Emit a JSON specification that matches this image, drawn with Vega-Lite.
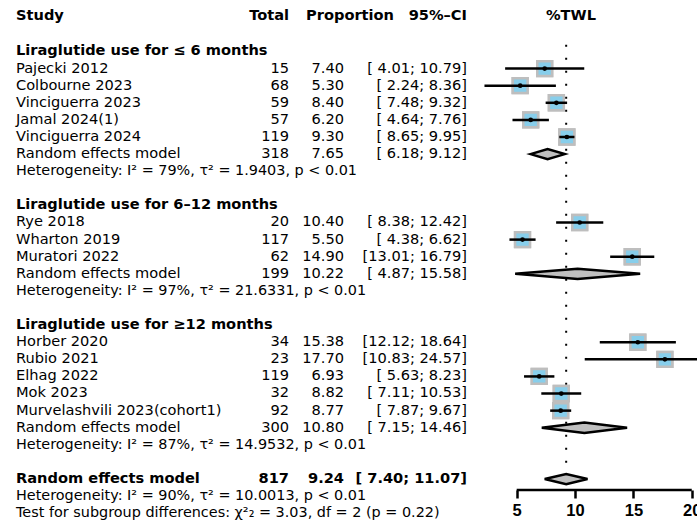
{
  "$schema": "https://vega.github.io/schema/vega-lite/v6.json",
  "padding": {"left": 16, "top": 0, "right": 0, "bottom": 0},
  "spacing": 0,
  "bounds": "flush",
  "config": {"view": {"stroke": null}},
  "datasets": {
    "rows": [
      {"row": -2.1, "kind": "colhead", "label": "Study"},
      {"row": 0, "kind": "group", "label": "Liraglutide use for ≤ 6 months"},
      {"row": 1, "kind": "study", "label": "Pajecki 2012", "total": 15, "est": 7.40, "lower": 4.01, "upper": 10.79},
      {"row": 2, "kind": "study", "label": "Colbourne 2023", "total": 68, "est": 5.30, "lower": 2.24, "upper": 8.36},
      {"row": 3, "kind": "study", "label": "Vinciguerra 2023", "total": 59, "est": 8.40, "lower": 7.48, "upper": 9.32},
      {"row": 4, "kind": "study", "label": "Jamal 2024(1)", "total": 57, "est": 6.20, "lower": 4.64, "upper": 7.76},
      {"row": 5, "kind": "study", "label": "Vinciguerra 2024", "total": 119, "est": 9.30, "lower": 8.65, "upper": 9.95},
      {"row": 6, "kind": "summary", "label": "Random effects model", "total": 318, "est": 7.65, "lower": 6.18, "upper": 9.12},
      {"row": 7, "kind": "het", "label": "Heterogeneity: I² = 79%, τ² = 1.9403, p < 0.01"},
      {"row": 9, "kind": "group", "label": "Liraglutide use for 6–12 months"},
      {"row": 10, "kind": "study", "label": "Rye 2018", "total": 20, "est": 10.40, "lower": 8.38, "upper": 12.42},
      {"row": 11, "kind": "study", "label": "Wharton 2019", "total": 117, "est": 5.50, "lower": 4.38, "upper": 6.62},
      {"row": 12, "kind": "study", "label": "Muratori 2022", "total": 62, "est": 14.90, "lower": 13.01, "upper": 16.79},
      {"row": 13, "kind": "summary", "label": "Random effects model", "total": 199, "est": 10.22, "lower": 4.87, "upper": 15.58},
      {"row": 14, "kind": "het", "label": "Heterogeneity: I² = 97%, τ² = 21.6331, p < 0.01"},
      {"row": 16, "kind": "group", "label": "Liraglutide use for ≥12 months"},
      {"row": 17, "kind": "study", "label": "Horber 2020", "total": 34, "est": 15.38, "lower": 12.12, "upper": 18.64},
      {"row": 18, "kind": "study", "label": "Rubio 2021", "total": 23, "est": 17.70, "lower": 10.83, "upper": 24.57},
      {"row": 19, "kind": "study", "label": "Elhag 2022", "total": 119, "est": 6.93, "lower": 5.63, "upper": 8.23},
      {"row": 20, "kind": "study", "label": "Mok 2023", "total": 32, "est": 8.82, "lower": 7.11, "upper": 10.53},
      {"row": 21, "kind": "study", "label": "Murvelashvili 2023(cohort1)", "total": 92, "est": 8.77, "lower": 7.87, "upper": 9.67},
      {"row": 22, "kind": "summary", "label": "Random effects model", "total": 300, "est": 10.80, "lower": 7.15, "upper": 14.46},
      {"row": 23, "kind": "het", "label": "Heterogeneity: I² = 87%, τ² = 14.9532, p < 0.01"},
      {"row": 25, "kind": "overall", "label": "Random effects model", "total": 817, "est": 9.24, "lower": 7.40, "upper": 11.07},
      {"row": 26, "kind": "het", "label": "Heterogeneity: I² = 90%, τ² = 10.0013, p < 0.01"},
      {"row": 27, "kind": "test", "label": "Test for subgroup differences: χ²₂ = 3.03, df = 2 (p = 0.22)"}
    ]
  },
  "data": {"name": "rows"},
  "hconcat": [
    {
      "width": 214,
      "height": 521,
      "encoding": {
        "y": {"field": "row", "type": "quantitative", "axis": null,
              "scale": {"domain": [-3.01, 27.46], "reverse": true, "nice": false, "zero": false}},
        "x": {"value": 0},
        "text": {"field": "label"}
      },
      "layer": [
        {
          "transform": [{"filter": "indexof(['colhead','group','overall'], datum.kind) >= 0"}],
          "mark": {"type": "text", "align": "left", "baseline": "middle", "font": "DejaVu Sans", "fontSize": 14.6, "fontWeight": "bold", "color": "black"}
        },
        {
          "transform": [{"filter": "datum.kind == 'study' || datum.kind == 'summary'"}],
          "mark": {"type": "text", "align": "left", "baseline": "middle", "font": "DejaVu Sans", "fontSize": 14.6, "color": "black"}
        },
        {
          "transform": [{"filter": "datum.kind == 'het' || datum.kind == 'test'"}],
          "mark": {"type": "text", "align": "left", "baseline": "middle", "font": "DejaVu Sans", "fontSize": 14.4, "color": "black"}
        }
      ]
    },
    {
      "width": 59,
      "height": 521,
      "encoding": {
        "y": {"field": "row", "type": "quantitative", "axis": null,
              "scale": {"domain": [-3.01, 27.46], "reverse": true, "nice": false, "zero": false}},
        "x": {"value": "width"}
      },
      "layer": [
        {
          "transform": [{"filter": "datum.kind == 'colhead'"}],
          "mark": {"type": "text", "align": "right", "baseline": "middle", "font": "DejaVu Sans", "fontSize": 14.6, "fontWeight": "bold", "color": "black"},
          "encoding": {"text": {"value": "Total"}}
        },
        {
          "transform": [{"filter": "datum.kind == 'study' || datum.kind == 'summary'"}],
          "mark": {"type": "text", "align": "right", "baseline": "middle", "font": "DejaVu Sans", "fontSize": 14.6, "color": "black"},
          "encoding": {"text": {"field": "total", "type": "quantitative"}}
        },
        {
          "transform": [{"filter": "datum.kind == 'overall'"}],
          "mark": {"type": "text", "align": "right", "baseline": "middle", "font": "DejaVu Sans", "fontSize": 14.6, "fontWeight": "bold", "color": "black"},
          "encoding": {"text": {"field": "total", "type": "quantitative"}}
        }
      ]
    },
    {
      "width": 55,
      "height": 521,
      "encoding": {
        "y": {"field": "row", "type": "quantitative", "axis": null,
              "scale": {"domain": [-3.01, 27.46], "reverse": true, "nice": false, "zero": false}},
        "x": {"value": "width"}
      },
      "layer": [
        {
          "transform": [{"filter": "datum.kind == 'colhead'"}],
          "mark": {"type": "text", "align": "right", "baseline": "middle", "dx": 50, "font": "DejaVu Sans", "fontSize": 14.6, "fontWeight": "bold", "color": "black"},
          "encoding": {"text": {"value": "Proportion"}}
        },
        {
          "transform": [{"filter": "datum.kind == 'study' || datum.kind == 'summary'"}],
          "mark": {"type": "text", "align": "right", "baseline": "middle", "font": "DejaVu Sans", "fontSize": 14.6, "color": "black"},
          "encoding": {"text": {"field": "est", "type": "quantitative", "format": ".2f"}}
        },
        {
          "transform": [{"filter": "datum.kind == 'overall'"}],
          "mark": {"type": "text", "align": "right", "baseline": "middle", "font": "DejaVu Sans", "fontSize": 14.6, "fontWeight": "bold", "color": "black"},
          "encoding": {"text": {"field": "est", "type": "quantitative", "format": ".2f"}}
        }
      ]
    },
    {
      "width": 126,
      "height": 521,
      "transform": [
        {"calculate": "'[' + pad(format(datum.lower, '.2f'), 5, ' ', 'left') + '; ' + pad(format(datum.upper, '.2f'), 5, ' ', 'left') + ']'", "as": "ci"}
      ],
      "encoding": {
        "y": {"field": "row", "type": "quantitative", "axis": null,
              "scale": {"domain": [-3.01, 27.46], "reverse": true, "nice": false, "zero": false}},
        "x": {"value": "width"}
      },
      "layer": [
        {
          "transform": [{"filter": "datum.kind == 'colhead'"}],
          "mark": {"type": "text", "align": "right", "baseline": "middle", "dx": -3, "font": "DejaVu Sans", "fontSize": 14.6, "fontWeight": "bold", "color": "black"},
          "encoding": {"text": {"value": "95%–CI"}}
        },
        {
          "transform": [{"filter": "datum.kind == 'study' || datum.kind == 'summary'"}],
          "mark": {"type": "text", "align": "right", "baseline": "middle", "dx": -3, "font": "DejaVu Sans", "fontSize": 14.6, "color": "black"},
          "encoding": {"text": {"field": "ci"}}
        },
        {
          "transform": [{"filter": "datum.kind == 'overall'"}],
          "mark": {"type": "text", "align": "right", "baseline": "middle", "dx": -3, "font": "DejaVu Sans", "fontSize": 14.6, "fontWeight": "bold", "color": "black"},
          "encoding": {"text": {"field": "ci"}}
        }
      ]
    },
    {
      "width": 227,
      "height": 490,
      "encoding": {
        "y": {"field": "row", "type": "quantitative", "axis": null,
              "scale": {"domain": [-3.01, 25.64], "reverse": true, "nice": false, "zero": false}}
      },
      "layer": [
        {
          "transform": [{"filter": "datum.kind == 'study'"}],
          "mark": {"type": "point", "shape": "square", "filled": true, "size": 220, "fill": "#87CEEB", "stroke": "#BEBEBE", "strokeWidth": 2.5, "opacity": 1},
          "encoding": {
            "x": {
              "field": "est", "type": "quantitative", "title": null,
              "scale": {"domain": [1, 20.45], "nice": false, "zero": false},
              "axis": {
                "values": [5, 10, 15, 20], "domain": false, "grid": false,
                "ticks": true, "tickSize": 8, "tickWidth": 2.5, "tickColor": "black",
                "labelFont": "Liberation Sans", "labelFontSize": 16.5, "labelFontWeight": "bold",
                "labelColor": "black", "labelPadding": 4, "labelFlush": false,
                "labelOverlap": false, "labelBound": false
              }
            }
          }
        },
        {
          "transform": [{"filter": "datum.kind == 'colhead'"}],
          "mark": {"type": "text", "align": "center", "baseline": "middle", "font": "DejaVu Sans", "fontSize": 14.6, "fontWeight": "bold", "color": "black"},
          "encoding": {"x": {"datum": 9.65, "type": "quantitative", "title": null}, "text": {"value": "%TWL"}}
        },
        {
          "transform": [{"filter": "datum.kind == 'overall'"}],
          "mark": {"type": "rule", "color": "black", "strokeWidth": 2, "strokeDash": [2, 11], "strokeCap": "butt"},
          "encoding": {
            "x": {"field": "est", "type": "quantitative", "title": null},
            "y": {"datum": -0.4},
            "y2": {"datum": 25}
          }
        },
        {
          "transform": [{"filter": "datum.kind == 'study'"}],
          "mark": {"type": "point", "shape": "square", "filled": true, "size": 220, "fill": "#87CEEB", "stroke": "#BEBEBE", "strokeWidth": 2.5, "opacity": 1},
          "encoding": {"x": {"field": "est", "type": "quantitative", "title": null}}
        },
        {
          "transform": [{"filter": "datum.kind == 'study'"}],
          "mark": {"type": "rule", "color": "black", "strokeWidth": 2.5, "clip": true},
          "encoding": {
            "x": {"field": "lower", "type": "quantitative", "title": null},
            "x2": {"field": "upper"}
          }
        },
        {
          "transform": [{"filter": "datum.kind == 'study'"}],
          "mark": {"type": "point", "shape": "circle", "filled": true, "size": 22, "color": "black", "opacity": 1},
          "encoding": {"x": {"field": "est", "type": "quantitative", "title": null}}
        },
        {
          "transform": [
            {"filter": "datum.kind == 'summary' || datum.kind == 'overall'"},
            {"fold": ["lower", "est", "upper"], "as": ["vertex", "xv"]},
            {"calculate": "datum.row - (datum.vertex == 'est' ? 0.3 : 0)", "as": "ytop"},
            {"calculate": "datum.row + (datum.vertex == 'est' ? 0.3 : 0)", "as": "ybot"}
          ],
          "mark": {"type": "area", "orient": "vertical", "fill": "#C0C0C0", "stroke": "black", "strokeWidth": 2.5, "strokeJoin": "miter", "opacity": 1},
          "encoding": {
            "x": {"field": "xv", "type": "quantitative", "title": null},
            "y": {"field": "ytop", "type": "quantitative"},
            "y2": {"field": "ybot"},
            "detail": {"field": "row"}
          }
        },
        {
          "data": {"values": [{}]},
          "mark": {"type": "rule", "color": "black", "strokeWidth": 2.5},
          "encoding": {
            "x": {"datum": 5, "type": "quantitative", "title": null},
            "x2": {"datum": 20},
            "y": {"value": "height"}
          }
        }
      ]
    }
  ]
}
